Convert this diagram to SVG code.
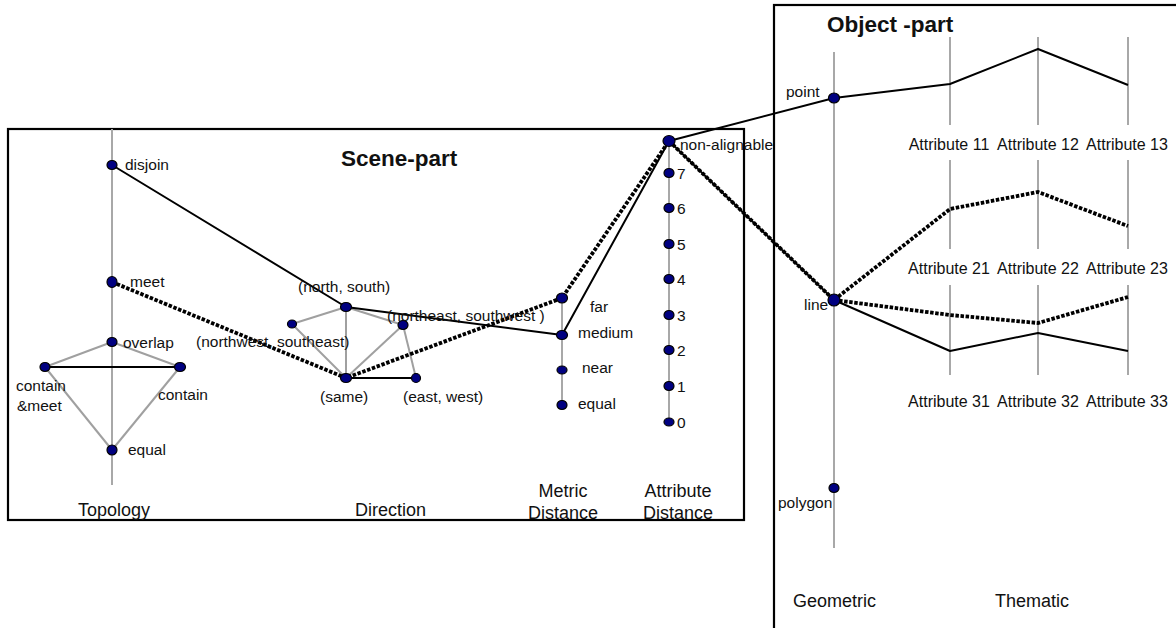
<svg xmlns="http://www.w3.org/2000/svg" width="1176" height="628" viewBox="0 0 1176 628">
<style>
text{font-family:"Liberation Sans",Arial,sans-serif;fill:#111}
.lb{font-size:15.5px}
.at{font-size:16px}
.ax{font-size:18px}
.tt{font-size:22.5px;font-weight:bold}
.mid{text-anchor:middle}
.axis{stroke:#a8a8a8;stroke-width:2;fill:none}
.gl{stroke:#a0a0a0;stroke-width:2;fill:none}
.sl{stroke:#000;stroke-width:2;fill:none;stroke-linejoin:round}
.dl{stroke:#000;stroke-width:3.8;fill:none;stroke-dasharray:3.5 1.6}
.nd{fill:#000080;stroke:#000;stroke-width:1.2}
.box{fill:none;stroke:#000;stroke-width:2.2}
</style>
<rect width="1176" height="628" fill="#fff"/>
<g id="frames">
<rect class="box" x="8" y="129" width="736" height="391"/>
<rect class="box" x="774" y="5" width="420" height="640"/>
<text class="tt" x="341" y="166">Scene-part</text>
<text class="tt" x="827" y="32">Object -part</text>
</g>
<g id="axes">
<line class="axis" x1="112" y1="129" x2="112" y2="485"/>
<line class="axis" x1="562" y1="298" x2="562" y2="405"/>
<line class="axis" x1="669" y1="141" x2="669" y2="422"/>
<line class="axis" x1="834" y1="52" x2="834" y2="548"/>
<line class="axis" x1="950" y1="37" x2="950" y2="125"/>
<line class="axis" x1="1038" y1="37" x2="1038" y2="125"/>
<line class="axis" x1="1128" y1="37" x2="1128" y2="125"/>
<line class="axis" x1="950" y1="160" x2="950" y2="249"/>
<line class="axis" x1="1038" y1="160" x2="1038" y2="249"/>
<line class="axis" x1="1128" y1="160" x2="1128" y2="249"/>
<line class="axis" x1="950" y1="285" x2="950" y2="375"/>
<line class="axis" x1="1038" y1="285" x2="1038" y2="375"/>
<line class="axis" x1="1128" y1="285" x2="1128" y2="375"/>
<text class="ax" x="78" y="516">Topology</text>
<text class="ax" x="355" y="516">Direction</text>
<text class="ax mid" x="563" y="497">Metric</text>
<text class="ax mid" x="563" y="519">Distance</text>
<text class="ax mid" x="678" y="497">Attribute</text>
<text class="ax mid" x="678" y="519">Distance</text>
<text class="ax" x="793" y="607">Geometric</text>
<text class="ax" x="995" y="607">Thematic</text>
<text class="at mid" x="949" y="150">Attribute 11</text>
<text class="at mid" x="1038" y="150">Attribute 12</text>
<text class="at mid" x="1127" y="150">Attribute 13</text>
<text class="at mid" x="949" y="274">Attribute 21</text>
<text class="at mid" x="1038" y="274">Attribute 22</text>
<text class="at mid" x="1127" y="274">Attribute 23</text>
<text class="at mid" x="949" y="407">Attribute 31</text>
<text class="at mid" x="1038" y="407">Attribute 32</text>
<text class="at mid" x="1127" y="407">Attribute 33</text>
</g>
<g id="connectors">
<line class="gl" x1="112" y1="342" x2="45" y2="367"/>
<line class="gl" x1="112" y1="342" x2="180" y2="367"/>
<line class="gl" x1="45" y1="367" x2="112" y2="450"/>
<line class="gl" x1="180" y1="367" x2="112" y2="450"/>
<line class="sl" x1="45" y1="367" x2="180" y2="367"/>
<line class="gl" x1="346" y1="307" x2="292" y2="324"/>
<line class="gl" x1="346" y1="307" x2="403" y2="325"/>
<line class="gl" x1="346" y1="307" x2="346" y2="378"/>
<line class="gl" x1="292" y1="324" x2="346" y2="378"/>
<line class="gl" x1="403" y1="325" x2="346" y2="378" stroke="#c4c4c4"/>
<line class="gl" x1="403" y1="325" x2="416" y2="378"/>
<line class="sl" x1="346" y1="378" x2="416" y2="378"/>
<polyline class="sl" points="112,165 346,307 562,335 669,141 834,98 950,84 1038,49 1128,85"/>
<polyline class="sl" points="669,141 834,300 950,351 1038,333 1128,351"/>
<polyline class="dl" points="112,282 346,378 562,298 669,141 834,300 950,209 1038,192 1128,226"/>
<polyline class="dl" points="834,300 950,315 1038,323 1128,297"/>
</g>
<g id="topology-nodes">
<g id="n-disjoin"><ellipse class="nd" cx="112" cy="165" rx="5" ry="4.5"/><text class="lb" x="125" y="170">disjoin</text></g>
<g id="n-meet"><ellipse class="nd" cx="112" cy="282" rx="5" ry="5.5"/><text class="lb" x="130" y="287">meet</text></g>
<g id="n-overlap"><ellipse class="nd" cx="112" cy="342" rx="5" ry="4.5"/><text class="lb" x="123" y="348">overlap</text></g>
<g id="n-containmeet"><ellipse class="nd" cx="45" cy="367" rx="5" ry="4.5"/><text class="lb" x="16" y="391">contain</text><text class="lb" x="17" y="411">&amp;meet</text></g>
<g id="n-contain"><ellipse class="nd" cx="180" cy="367" rx="5.5" ry="4.5"/><text class="lb" x="158" y="400">contain</text></g>
<g id="n-equal"><ellipse class="nd" cx="112" cy="450" rx="5" ry="5"/><text class="lb" x="128" y="455">equal</text></g>
</g>
<g id="direction-nodes">
<g id="n-ns"><ellipse class="nd" cx="346" cy="307" rx="5.5" ry="4.5"/><text class="lb" x="298" y="292">(north, south)</text></g>
<g id="n-nwse"><ellipse class="nd" cx="292" cy="324" rx="4.5" ry="4"/><text class="lb" x="196" y="347">(northwest, southeast)</text></g>
<g id="n-nesw"><ellipse class="nd" cx="403" cy="325" rx="5" ry="4.5"/><text class="lb" x="387" y="321">(northeast, southwest )</text></g>
<g id="n-same"><ellipse class="nd" cx="346" cy="378" rx="5.5" ry="4.5"/><text class="lb" x="320" y="402">(same)</text></g>
<g id="n-ew"><ellipse class="nd" cx="416" cy="378" rx="4.5" ry="4.5"/><text class="lb" x="403" y="402">(east, west)</text></g>
</g>
<g id="metric-nodes">
<g id="n-far"><ellipse class="nd" cx="562" cy="298" rx="5.5" ry="5"/><text class="lb" x="590" y="312">far</text></g>
<g id="n-medium"><ellipse class="nd" cx="562" cy="335" rx="5.5" ry="4.5"/><text class="lb" x="578" y="338">medium</text></g>
<g id="n-near"><ellipse class="nd" cx="562" cy="370" rx="5" ry="4"/><text class="lb" x="582" y="373">near</text></g>
<g id="n-mequal"><ellipse class="nd" cx="562" cy="405" rx="5" ry="4.5"/><text class="lb" x="578" y="409">equal</text></g>
</g>
<g id="attribute-distance-nodes">
<g id="n-na"><ellipse class="nd" cx="669" cy="141" rx="6" ry="5.5"/><text class="lb" x="680" y="150">non-alignable</text></g>
<g id="n-7"><ellipse class="nd" cx="669" cy="173" rx="5" ry="4.5"/><text class="lb" x="677" y="179">7</text></g>
<g id="n-6"><ellipse class="nd" cx="669" cy="208" rx="5" ry="4.5"/><text class="lb" x="677" y="214">6</text></g>
<g id="n-5"><ellipse class="nd" cx="669" cy="244" rx="5" ry="4.5"/><text class="lb" x="677" y="250">5</text></g>
<g id="n-4"><ellipse class="nd" cx="669" cy="279" rx="5" ry="4.5"/><text class="lb" x="677" y="285">4</text></g>
<g id="n-3"><ellipse class="nd" cx="669" cy="315" rx="5" ry="4.5"/><text class="lb" x="677" y="321">3</text></g>
<g id="n-2"><ellipse class="nd" cx="669" cy="350" rx="5" ry="4.5"/><text class="lb" x="677" y="356">2</text></g>
<g id="n-1"><ellipse class="nd" cx="669" cy="386" rx="5" ry="4.5"/><text class="lb" x="677" y="392">1</text></g>
<g id="n-0"><ellipse class="nd" cx="669" cy="422" rx="5" ry="4"/><text class="lb" x="677" y="428">0</text></g>
</g>
<g id="geometric-nodes">
<g id="n-point"><ellipse class="nd" cx="834" cy="98" rx="5.5" ry="5"/><text class="lb" x="786" y="97">point</text></g>
<g id="n-line"><ellipse class="nd" cx="834" cy="300" rx="6" ry="6"/><text class="lb" x="804" y="310" font-size="14px">line</text></g>
<g id="n-polygon"><ellipse class="nd" cx="834" cy="488" rx="5" ry="4.5"/><text class="lb" x="778" y="508">polygon</text></g>
</g>
</svg>
